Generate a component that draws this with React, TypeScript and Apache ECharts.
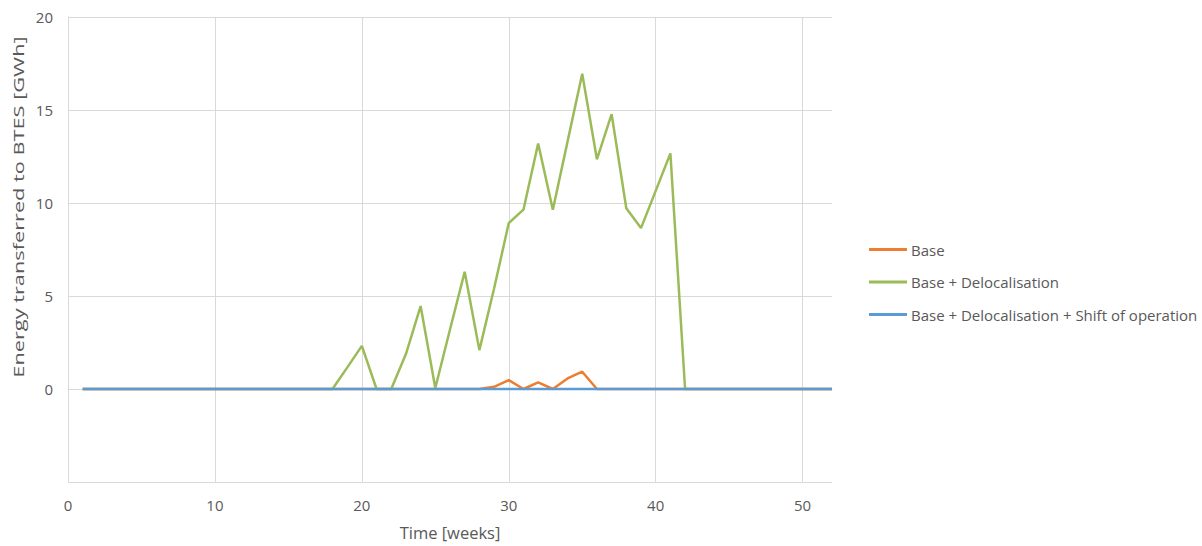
import React, { useEffect, useRef } from "react";
import * as echarts from "echarts";

const weeks = [
  1, 2, 3, 4, 5, 6, 7, 8, 9, 10, 11, 12, 13, 14, 15, 16, 17, 18, 19, 20, 21, 22, 23, 24, 25, 26,
  27, 28, 29, 30, 31, 32, 33, 34, 35, 36, 37, 38, 39, 40, 41, 42, 43, 44, 45, 46, 47, 48, 49, 50, 51, 52,
];

const baseValues = [
  0, 0, 0, 0, 0, 0, 0, 0, 0, 0, 0, 0, 0, 0, 0, 0, 0, 0, 0, 0, 0, 0, 0, 0, 0, 0,
  0, 0, 0.12, 0.48, 0, 0.36, 0, 0.57, 0.93, 0, 0, 0, 0, 0, 0, 0, 0, 0, 0, 0, 0, 0, 0, 0, 0, 0,
];

const delocValues = [
  0, 0, 0, 0, 0, 0, 0, 0, 0, 0, 0, 0, 0, 0, 0, 0, 0, 0, 1.15, 2.32, 0, 0, 1.88, 4.46, 0.05, 3.2,
  6.3, 2.09, 5.4, 8.92, 9.64, 13.2, 9.64, 13.3, 16.95, 12.35, 14.78, 9.72, 8.65, 10.65, 12.67, 0, 0, 0, 0, 0, 0, 0, 0, 0, 0, 0,
];

const shiftValues = [
  0, 0, 0, 0, 0, 0, 0, 0, 0, 0, 0, 0, 0, 0, 0, 0, 0, 0, 0, 0, 0, 0, 0, 0, 0, 0,
  0, 0, 0, 0, 0, 0, 0, 0, 0, 0, 0, 0, 0, 0, 0, 0, 0, 0, 0, 0, 0, 0, 0, 0, 0, 0,
];

const seriesNames = ["Base", "Base + Delocalisation", "Base + Delocalisation + Shift of operation"];
const seriesColors = ["#ED7D31", "#9BBB59", "#5B9BD5"];

const xTitle = "Time [weeks]";
const yTitle = "Energy transferred to BTES [GWh]";

const FONT = "'Open Sans', sans-serif";
const TEXT = "#595959";
const GRID = "#d9d9d9";

export default function App() {
  const ref = useRef<HTMLDivElement>(null);

  useEffect(() => {
    if (!ref.current) return;
    const chart = echarts.init(ref.current, undefined, { renderer: "svg" });
    const all = [baseValues, delocValues, shiftValues];
    chart.setOption({
      animation: false,
      backgroundColor: "#ffffff",
      textStyle: { fontFamily: FONT },
      grid: { left: 68, right: 370, top: 17, bottom: 62, containLabel: false },
      legend: {
        orient: "vertical",
        left: 869,
        top: 242,
        padding: 0,
        icon: "rect",
        itemWidth: 38,
        itemHeight: 3,
        itemGap: 17.5,
        textStyle: { color: TEXT, fontSize: 15, fontFamily: FONT, padding: [0, 0, 0, -1] },
        data: seriesNames,
      },
      graphic: [
        {
          type: "text",
          x: 18,
          y: 207,
          rotation: Math.PI / 2,
          scaleX: 1.45,
          style: {
            text: yTitle,
            fill: TEXT,
            fontSize: 15,
            fontFamily: FONT,
            textAlign: "center",
            textVerticalAlign: "middle",
          },
        },
      ],
      xAxis: {
        type: "value",
        min: 0,
        max: 52,
        interval: 10,
        name: xTitle,
        nameLocation: "middle",
        nameGap: 42,
        nameTextStyle: { color: TEXT, fontSize: 16.5, fontFamily: FONT },
        axisLine: { show: true, lineStyle: { color: GRID, width: 1 } },
        axisTick: { show: false },
        axisLabel: { color: TEXT, fontSize: 15, margin: 15, showMaxLabel: false, fontFamily: FONT },
        splitLine: { show: true, showMinLine: false, showMaxLine: false, lineStyle: { color: GRID, width: 1 } },
      },
      yAxis: {
        type: "value",
        min: -5,
        max: 20,
        interval: 5,
        axisLine: { show: true, lineStyle: { color: GRID, width: 1 } },
        axisTick: { show: false },
        axisLabel: {
          color: TEXT,
          fontSize: 15,
          margin: 15,
          fontFamily: FONT,
          formatter: (v: number) => (v < 0 ? "" : String(v)),
        },
        splitLine: { show: true, lineStyle: { color: GRID, width: 1 } },
      },
      series: seriesNames.map((name, i) => ({
        name,
        type: "line",
        symbol: "none",
        z: 2 + i,
        color: seriesColors[i],
        lineStyle: { color: seriesColors[i], width: 2.5 },
        data: weeks.map((w, k) => [w, all[i][k]]),
      })),
    });
    return () => chart.dispose();
  }, []);

  return (
    <div
      ref={ref}
      style={{ position: "absolute", left: 0, top: 0, width: 1202, height: 546 }}
    />
  );
}
